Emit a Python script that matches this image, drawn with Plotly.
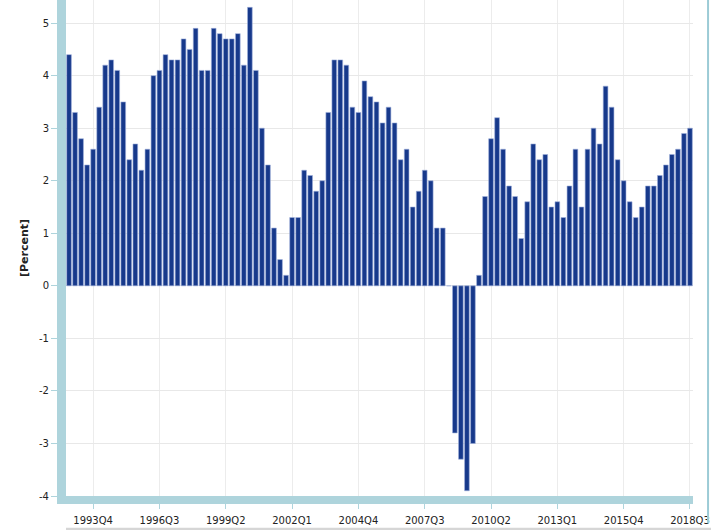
import plotly.graph_objects as go

# quarterly values, 1992Q4 .. 2018Q3
first_year, first_q = 1992, 4
values = [
    4.4, 3.3, 2.8, 2.3, 2.6, 3.4, 4.2, 4.3, 4.1, 3.5,
    2.4, 2.7, 2.2, 2.6, 4.0, 4.1, 4.4, 4.3, 4.3, 4.7,
    4.5, 4.9, 4.1, 4.1, 4.9, 4.8, 4.7, 4.7, 4.8, 4.2,
    5.3, 4.1, 3.0, 2.3, 1.1, 0.5, 0.2, 1.3, 1.3, 2.2,
    2.1, 1.8, 2.0, 3.3, 4.3, 4.3, 4.2, 3.4, 3.3, 3.9,
    3.6, 3.5, 3.1, 3.4, 3.1, 2.4, 2.6, 1.5, 1.8, 2.2,
    2.0, 1.1, 1.1, 0.0, -2.8, -3.3, -3.9, -3.0, 0.2, 1.7,
    2.8, 3.2, 2.6, 1.9, 1.7, 0.9, 1.6, 2.7, 2.4, 2.5,
    1.5, 1.6, 1.3, 1.9, 2.6, 1.5, 2.6, 3.0, 2.7, 3.8,
    3.4, 2.4, 2.0, 1.6, 1.3, 1.5, 1.9, 1.9, 2.1, 2.3,
    2.5, 2.6, 2.9, 3.0,
]

quarters = []
y, q = first_year, first_q
for _ in values:
    quarters.append(f"{y}Q{q}")
    q += 1
    if q > 4:
        q = 1
        y += 1

tick_labels = ["1993Q4", "1996Q3", "1999Q2", "2002Q1", "2004Q4",
               "2007Q3", "2010Q2", "2013Q1", "2015Q4", "2018Q3"]
y_ticks = [-4, -3, -2, -1, 0, 1, 2, 3, 4, 5]
y_tick_text = ["-4", "-3", "-2", "-1", "0", "1", "2", "3", "4", "5"]

axis_blue = "#aed4dc"
font = dict(family="DejaVu Sans", size=10, color="#222222")

fig = go.Figure()
fig.add_trace(go.Bar(
    x=quarters, y=values,
    marker=dict(color="#17398b", line=dict(color="#9fb0dc", width=0.6)),
))

fig.update_layout(
    width=711, height=530,
    margin=dict(l=66, r=18, t=0, b=34),
    plot_bgcolor="white", paper_bgcolor="white",
    bargap=0.22,
    showlegend=False,
    font=font,
    xaxis=dict(
        type="category",
        tickmode="array", tickvals=tick_labels, ticktext=tick_labels,
        showgrid=True, gridcolor="#ececec", gridwidth=1,
        showline=True, linecolor=axis_blue, linewidth=8,
        ticks="outside", ticklen=5, tickcolor=axis_blue,
        tickangle=0, tickfont=font, ticklabelstandoff=3,
    ),
    yaxis=dict(
        range=[-4, 5.44],
        tickmode="array", tickvals=y_ticks, ticktext=y_tick_text,
        showgrid=True, gridcolor="#e8e8e8", gridwidth=1,
        zeroline=False,
        showline=True, linecolor=axis_blue, linewidth=9,
        ticks="outside", ticklen=6, tickcolor=axis_blue,
        tickfont=font,
        title=dict(text="<b>[Percent]</b>", font=dict(family="DejaVu Sans", size=11, color="#222222"), standoff=12),
    ),
    shapes=[
        dict(type="line", xref="paper", yref="paper", x0=1.024, x1=1.024, y0=-0.055, y1=1,
             line=dict(color="#9ccbd6", width=2)),
        dict(type="rect", xref="paper", yref="paper", x0=0, x1=1.04, y0=-0.064, y1=-0.074,
             line=dict(width=0), fillcolor="#d6d6d6"),
    ],
)

fig.write_html("out.html", config={"displayModeBar": False},
               post_script="document.body.style.margin='0';")
